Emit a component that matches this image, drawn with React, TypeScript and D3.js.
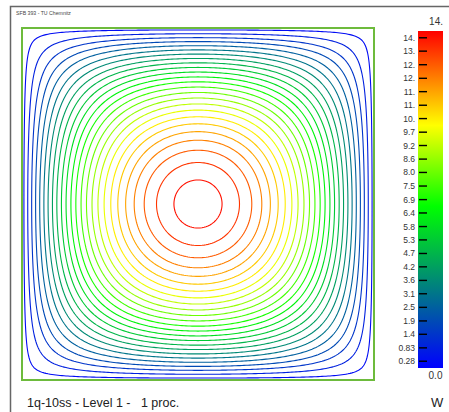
import React, { useEffect, useRef } from "react";
import * as d3 from "d3";

// contour levels of W (also where the colour bar ticks sit)
const levels = [
  0.28, 0.83, 1.39, 1.94, 2.5, 3.06, 3.61, 4.17, 4.72, 5.28, 5.83, 6.39, 6.94,
  7.5, 8.06, 8.61, 9.17, 9.72, 10.28, 10.83, 11.39, 11.94, 12.5, 13.06, 13.61,
];
const tickLabels = [
  "0.28", "0.83", "1.4", "1.9", "2.5", "3.1", "3.6", "4.2", "4.7", "5.3", "5.8",
  "6.4", "6.9", "7.5", "8.0", "8.6", "9.2", "9.7", "10.", "11.", "11.", "12.",
  "12.", "13.", "14.",
];
const wMin = 0;
const wMax = 13.89;
const colorStops = [0, 0.48, 0.72, 1];
const colorRange = ["#0000ff", "#00ff00", "#ffff00", "#ff0000"];
// share of the constant source vs. the sin*sin source (of the peak value)
const constShare = 0.4;

const W = 449;
const H = 412;
const box = { x: 22, y: 28, size: 352 };
const bar = { x: 418, y: 31, w: 25, h: 337 };
const N = 177;

// W solves -lap(W) = a + b*sin(pi x)sin(pi y) on the unit square, W = 0 on the boundary
function field(): number[] {
  const terms = 31;
  const sinT: number[][] = [];
  for (let m = 1; m <= terms; m += 2) {
    const row: number[] = [];
    for (let i = 0; i < N; i++) row.push(Math.sin((m * Math.PI * i) / (N - 1)));
    sinT.push(row);
  }
  const coef: number[][] = [];
  for (let a = 0; a < sinT.length; a++) {
    coef.push([]);
    for (let b = 0; b < sinT.length; b++) {
      const m = 2 * a + 1, n = 2 * b + 1;
      coef[a].push(16 / (Math.PI ** 4 * m * n * (m * m + n * n)));
    }
  }
  const pois = new Array(N * N).fill(0);
  for (let j = 0; j < N; j++) {
    for (let i = 0; i < N; i++) {
      let s = 0;
      for (let a = 0; a < sinT.length; a++) {
        const sa = sinT[a][i];
        if (sa === 0) continue;
        for (let b = 0; b < sinT.length; b++) s += coef[a][b] * sa * sinT[b][j];
      }
      pois[j * N + i] = s;
    }
  }
  const pMax = d3.max(pois) as number;
  return pois.map((p, k) => {
    const i = k % N, j = Math.floor(k / N);
    const ss = sinT[0][i] * sinT[0][j];
    return (constShare * (p / pMax) + (1 - constShare) * ss) * wMax;
  });
}

const App = () => {
  const ref = useRef<SVGGElement>(null);

  const color = d3
    .scaleLinear<string>()
    .domain(colorStops.map((s) => wMin + s * (wMax - wMin)))
    .range(colorRange);
  const yBar = d3.scaleLinear().domain([wMin, wMax]).range([bar.y + bar.h, bar.y]);

  useEffect(() => {
    const g = d3.select(ref.current);
    const vals = field();
    const conts = d3.contours().size([N, N]).thresholds(levels)(vals);
    const sx = d3.scaleLinear().domain([0.5, N - 0.5]).range([box.x, box.x + box.size]);
    const sy = d3.scaleLinear().domain([0.5, N - 0.5]).range([box.y + box.size, box.y]);
    const proj = d3.geoTransform({
      point(x, y) {
        this.stream.point(sx(x), sy(y));
      },
    });
    const path = d3.geoPath(proj);
    g.selectAll("path")
      .data(conts)
      .join("path")
      .attr("d", (d) => path(d as any))
      .attr("fill", "none")
      .attr("stroke", (d) => color(d.value))
      .attr("stroke-width", 1.1);
  }, []);

  return (
    <svg
      width={W}
      height={H}
      style={{ position: "absolute", left: 0, top: 0, background: "#fff" }}
      fontFamily="'Liberation Sans', Arial, sans-serif"
    >
      <defs>
        <linearGradient id="wbar" x1="0" y1="1" x2="0" y2="0">
          {colorStops.map((s, i) => (
            <stop key={i} offset={s} stopColor={colorRange[i]} />
          ))}
        </linearGradient>
      </defs>
      <path d={`M10.5,${H} V6.5 H${W}`} fill="none" stroke="#666" strokeWidth={1.5} />
      <text x={16} y={14.5} fontSize={5.2} fill="#444">SFB 393 - TU Chemnitz</text>

      <g ref={ref} />
      <rect x={box.x} y={box.y} width={box.size} height={box.size} fill="none" stroke="#6dbb3c" strokeWidth={2} />

      <rect x={bar.x} y={bar.y} width={bar.w} height={bar.h} fill="url(#wbar)" />
      {levels.map((v, i) => (
        <g key={i}>
          <line x1={bar.x + 1} x2={bar.x + 9} y1={yBar(v)} y2={yBar(v)} stroke="#000" strokeWidth={1.4} />
          <text x={bar.x - 3} y={yBar(v) + 3} fontSize={8.5} textAnchor="end" fill="#333">
            {tickLabels[i]}
          </text>
        </g>
      ))}
      <text x={bar.x + bar.w} y={25} fontSize={10} textAnchor="end" fill="#333">14.</text>
      <text x={bar.x + bar.w / 2 + 5} y={379} fontSize={10} textAnchor="middle" fill="#333">0.0</text>
      <text x={431} y={407} fontSize={13} fill="#222">W</text>
      <text x={27} y={407} fontSize={12.5} fill="#222" style={{ whiteSpace: "pre" }}>
        {"1q-10ss - Level 1 -   1 proc."}
      </text>
    </svg>
  );
};

export default App;
